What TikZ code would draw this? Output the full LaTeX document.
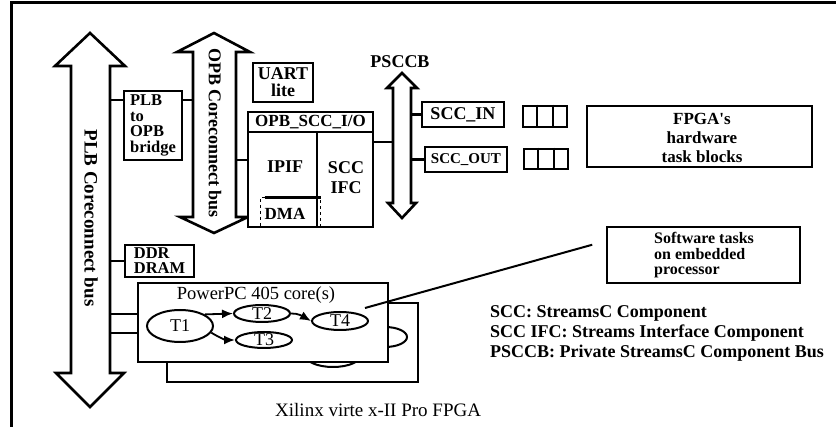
\documentclass[tikz,border=0pt]{standalone}
\usepackage{fontspec}
\setmainfont{Liberation Serif}
\usetikzlibrary{shapes.geometric,arrows.meta,calc}
\begin{document}
\begin{tikzpicture}[x=1pt,y=-1pt,line join=miter,
  box/.style={draw,line width=2.6pt,inner sep=0pt,fill=white},
  bus/.style={draw,line width=2.6pt,fill=white},
  wire/.style={line width=2.4pt},
  thinwire/.style={line width=1.8pt},
  bl/.style={font=\bfseries\fontsize{17}{15}\selectfont,inner sep=0pt,align=center},
  tsk/.style={draw,ellipse,line width=2pt,inner sep=0pt,fill=white},
  tt/.style={inner sep=0pt,font=\fontsize{18}{18}\selectfont},
  tip/.style={-{Latex[length=11pt,width=9pt]}},
  legend/.style={font=\bfseries\fontsize{18}{18}\selectfont,inner sep=0pt,anchor=west}
]
\useasboundingbox (0,0) rectangle (836,427);
% frame
\draw[line width=3pt] (11,427) -- (11,3) -- (836,3);

% PLB bus
\draw[bus] (71,66) -- (55,66) -- (90,33) -- (125,66) -- (110,66) -- (110,373) -- (124,373) -- (90,407) -- (56,373) -- (71,373) -- cycle;
\node[rotate=-90,font=\bfseries\fontsize{19}{19}\selectfont,inner sep=0pt] (plblbl) at (91,218) {PLB Coreconnect bus};
\coordinate (plbR) at (110,0);

% OPB bus
\draw[bus] (193,52) -- (177,52) -- (214,33) -- (250,52) -- (236,52) -- (236,217) -- (248,217) -- (214,233) -- (180,217) -- (193,217) -- cycle;
\node[rotate=-90,font=\bfseries\fontsize{18}{18}\selectfont,inner sep=0pt] (opblbl) at (215,133) {OPB Coreconnect bus};
\coordinate (opbL) at (193,0);
\coordinate (opbR) at (236,0);

% PSCCB bus
\draw[bus] (393,88) -- (387,88) -- (402,73) -- (417,88) -- (411,88) -- (411,203) -- (416,203) -- (402,218) -- (388,203) -- (393,203) -- cycle;
\node[bl,font=\bfseries\fontsize{18}{18}\selectfont] (psccb) at (400,62) {PSCCB};
\coordinate (pscL) at (393,0);
\coordinate (pscR) at (411,0);

% bridge
\node[box,minimum width=58pt,minimum height=69pt,align=left,font=\bfseries\fontsize{16.5}{15.5}\selectfont] (bridge) at (153,125.5) {PLB\\to\\OPB\\bridge};
\draw[wire] (plbR |- 0,100) -- (bridge.west |- 0,100);
\draw[wire] (bridge.east |- 0,100) -- (opbL |- 0,100);

% UART
\node[box,minimum width=60pt,minimum height=39pt,bl,font=\bfseries\fontsize{18}{17}\selectfont] (uart) at (283,82.5) {UART\\lite};

% OPB_SCC_I/O
\node[box,minimum width=125pt,minimum height=20pt,font=\bfseries\fontsize{17}{17}\selectfont] (opbhdr) at (310.5,122) {OPB\_SCC\_I/O};
\node[box,minimum width=69pt,minimum height=95pt] (ipif) at (282.5,179.5) {};
\node[box,minimum width=56pt,minimum height=95pt] (sccifc) at (345,179.5) {};
\node[bl,font=\bfseries\fontsize{18}{18}\selectfont] (ipiftxt) at (285,167) {IPIF};
\node[bl,font=\bfseries\fontsize{18}{20}\selectfont] (sccifctxt) at (346,178) {SCC\\IFC};
\node[draw,dashed,line width=1pt,minimum width=60pt,minimum height=29pt,inner sep=0pt] (dma) at (290,212.5) {};
\draw[wire] ([xshift=5pt]dma.north west) -- (dma.north east);
\node[bl,font=\bfseries\fontsize{17}{17}\selectfont] (dmatxt) at (285,214) {DMA};
\draw[wire] (opbR |- 0,160) -- (ipif.west |- 0,160);
\draw[wire] (sccifc.east |- 0,142) -- (pscL |- 0,142);

% SCC_IN / SCC_OUT
\node[box,minimum width=82pt,minimum height=25pt,font=\bfseries\fontsize{18}{18}\selectfont] (sccin) at (463,114.5) {SCC\_IN};
\node[box,minimum width=82pt,minimum height=25pt,font=\bfseries\fontsize{15}{15}\selectfont] (sccout) at (466,159.5) {SCC\_OUT};
\draw[wire] (pscR |- sccin.west) -- (sccin.west);
\draw[wire] (pscR |- sccout.west) -- (sccout.west);

% queues
\node[box,minimum width=44pt,minimum height=21pt] (q1) at (545,116.5) {};
\node[box,minimum width=44pt,minimum height=20pt] (q2) at (546,159) {};
\foreach \q in {q1,q2}{
  \draw[wire] ($(\q.north west)!1/3!(\q.north east)$) -- ($(\q.south west)!1/3!(\q.south east)$);
  \draw[wire] ($(\q.north west)!2/3!(\q.north east)$) -- ($(\q.south west)!2/3!(\q.south east)$);
}

% hardware tasks
\node[box,minimum width=225pt,minimum height=61pt] (hw) at (699.5,136.5) {};
\node[bl,font=\bfseries\fontsize{17}{19}\selectfont] (hwtxt) at (702,137.5) {FPGA\textquotesingle s\\hardware\\task blocks};

% software tasks
\node[box,minimum width=193pt,minimum height=56pt] (sw) at (703.5,255) {};
\node[bl,align=left,anchor=west,font=\bfseries\fontsize{16}{15.5}\selectfont] (swtxt) at (654,255.5) {Software tasks\\on embedded\\processor};

% DDR
\node[box,minimum width=69pt,minimum height=32pt,align=left,font=\bfseries\fontsize{16.5}{15}\selectfont] (ddr) at (159.5,261) {DDR\\DRAM};
\draw[wire] (plbR |- ddr.west) -- (ddr.west);

% PowerPC back
\node[box,minimum width=251pt,minimum height=79pt] (ppcback) at (292.5,342.5) {};
\node[draw,ellipse,line width=2pt,minimum width=44pt,minimum height=20pt,inner sep=0pt] (be1) at (385,337) {};
\node[draw,ellipse,line width=2pt,minimum width=56pt,minimum height=24pt,inner sep=0pt] (be2) at (333,355) {};
% PowerPC front
\node[box,minimum width=250pt,minimum height=79pt] (ppc) at (263,322.5) {};
\node[inner sep=0pt,font=\fontsize{18.5}{19}\selectfont] (ppctxt) at (256,295) {PowerPC 405 core(s)};
\draw[wire] (plbR |- 0,314) -- (ppc.west |- 0,314);
\draw[wire] (plbR |- 0,333) -- (ppc.west |- 0,333);

% tasks
\node[tsk,minimum width=66pt,minimum height=32pt] (t1) at (180,326) {};
\node[tsk,minimum width=56pt,minimum height=17pt] (t2) at (262,313.5) {};
\node[tsk,minimum width=56pt,minimum height=16pt] (t3) at (264,340) {};
\node[tsk,minimum width=56pt,minimum height=18pt] (t4) at (340,321) {};
\node[tt] (t1txt) at (t1) {T1};
\node[tt] (t2txt) at (t2) {T2};
\node[tt] (t3txt) at (t3) {T3};
\node[tt] (t4txt) at (t4) {T4};
\draw[thinwire,tip] (t1.25) -- (t2.west);
\draw[thinwire,tip] (t1.-12) .. controls (220,338) and (226,340) .. (t3.west);
\draw[thinwire,tip] (t2.east) .. controls (298,313) and (304,317) .. (t4.west);

% pointer to software tasks
\coordinate (ppcpt) at (365,308);
\draw[line width=2pt,shorten >=14pt] (ppcpt) -- (sw.west |- 0,241);

% legend
\node[legend] (lg1) at (490,313) {SCC: StreamsC Component};
\node[legend] (lg2) at (490,333) {SCC IFC: Streams Interface Component};
\node[legend] (lg3) at (490,353) {PSCCB: Private StreamsC Component Bus};

\node[inner sep=0pt,anchor=west,font=\fontsize{19}{19}\selectfont] (xil) at (275,410) {Xilinx virte x-II Pro FPGA};
\end{tikzpicture}
\end{document}
